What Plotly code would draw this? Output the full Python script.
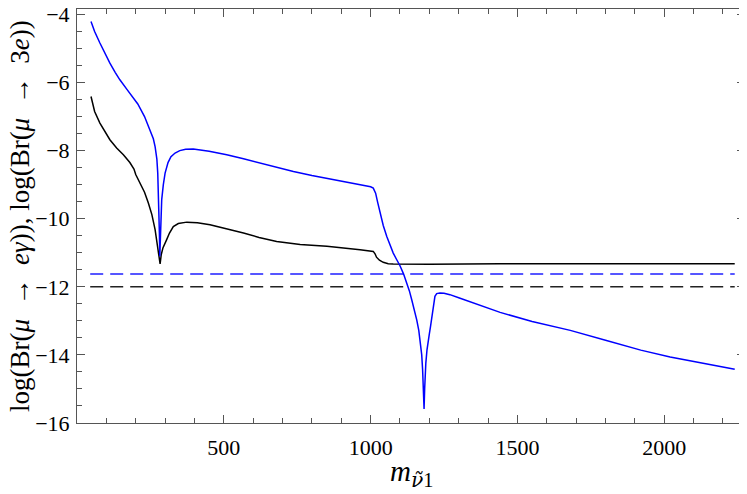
import plotly.graph_objects as go

# Blue curve (upper, with sharp dip near 1180)
blue_x = [47.7, 60, 78, 95, 112, 130, 146, 170, 190, 207, 230, 249, 260, 266, 272, 275, 278, 280.6, 282,
          284, 286, 288.5, 294, 300, 310, 320, 334, 350, 370, 396, 450, 510, 567, 624, 680, 737, 800, 850,
          895, 964, 1000, 1009, 1013, 1017, 1024, 1032, 1043, 1055, 1066, 1077, 1088, 1100, 1112, 1123,
          1132, 1140, 1148, 1157, 1164, 1170, 1174, 1177, 1180, 1182, 1184, 1186, 1188, 1192, 1196, 1200,
          1204, 1208, 1211, 1215, 1219, 1225, 1236, 1250, 1270, 1300, 1350, 1441, 1550, 1680, 1800, 1920,
          2020, 2130, 2240]
blue_y = [-4.21, -4.5, -4.84, -5.15, -5.43, -5.70, -5.92, -6.20, -6.42, -6.63, -7.0, -7.39, -7.65, -7.88,
          -8.25, -8.66, -9.4, -10.42, -11.1, -10.3, -9.8, -9.44, -9.0, -8.66, -8.35, -8.18, -8.07, -8.0,
          -7.96, -7.95, -8.02, -8.12, -8.24, -8.37, -8.49, -8.61, -8.73, -8.81, -8.88, -8.98, -9.06, -9.10,
          -9.16, -9.25, -9.52, -9.83, -10.2, -10.52, -10.78, -11.01, -11.19, -11.38, -11.62, -11.89, -12.12,
          -12.38, -12.65, -12.97, -13.28, -13.65, -14.0, -14.43, -15.0, -15.59, -15.0, -14.55, -14.24,
          -13.85, -13.55, -13.38, -13.16, -12.88, -12.67, -12.45, -12.28, -12.2, -12.18, -12.19, -12.23,
          -12.32, -12.48, -12.75, -13.02, -13.28, -13.57, -13.86, -14.06, -14.24, -14.42]

# Black curve
black_x = [47.7, 60, 78, 95, 112, 135, 158, 180, 194, 200, 215, 230, 243, 255, 266, 274, 280, 283, 287,
           293, 305, 315, 328, 345, 374, 410, 453, 510, 567, 620, 680, 760, 851, 964, 1009, 1015, 1020,
           1030, 1043, 1060, 1077, 1200, 1441, 2240]
black_y = [-6.41, -6.85, -7.19, -7.45, -7.68, -7.92, -8.12, -8.35, -8.54, -8.70, -8.95, -9.22, -9.54,
           -9.88, -10.32, -10.75, -11.15, -11.33, -11.05, -10.85, -10.62, -10.42, -10.23, -10.14, -10.10,
           -10.12, -10.18, -10.29, -10.42, -10.55, -10.67, -10.76, -10.81, -10.91, -10.96, -11.03, -11.13,
           -11.22, -11.28, -11.32, -11.33, -11.34, -11.32, -11.32]

# Experimental bounds (dashed)
bound_x = [45, 2240]
blue_bound = -11.62
black_bound = -12.0

x_tick_vals = [500, 1000, 1500, 2000]
y_tick_vals = [-16, -14, -12, -10, -8, -6, -4]

x_title = "<i>m</i><sub><span style=\"font-family:'DejaVu Serif'\"><i>ν̃</i></span>1</sub>"
y_title = "log(Br(<i>μ</i>\u2002→\u2002<i>eγ</i>)), log(Br(<i>μ</i>\u2002→\u20023<i>e</i>))"

SERIF = "'Liberation Serif', 'Times New Roman', Times, serif"

fig = go.Figure()
fig.add_trace(go.Scatter(x=bound_x, y=[blue_bound] * 2, mode="lines",
                         line=dict(color="#1f1fff", width=1.5, dash="13px,7px"), showlegend=False))
fig.add_trace(go.Scatter(x=bound_x, y=[black_bound] * 2, mode="lines",
                         line=dict(color="#222222", width=1.5, dash="13px,7px"), showlegend=False))
fig.add_trace(go.Scatter(x=black_x, y=black_y, mode="lines",
                         line=dict(color="black", width=1.5), showlegend=False))
fig.add_trace(go.Scatter(x=blue_x, y=blue_y, mode="lines",
                         line=dict(color="#0000ff", width=1.5), showlegend=False))

axis_common = dict(
    showline=True, linecolor="#555555", linewidth=1, mirror="allticks",
    ticks="inside", tickcolor="#555555", ticklen=8, tickwidth=1,
    showgrid=False, zeroline=False, automargin=False, ticklabeloverflow="allow",
    tickfont=dict(family=SERIF, size=22, color="black"),
)

fig.update_xaxes(range=[0, 2275], tickvals=x_tick_vals, ticklabelstandoff=5,
                 minor=dict(dtick=100, tick0=0, ticklen=5, tickcolor="#555555", ticks="inside"),
                 **axis_common)
fig.update_yaxes(range=[-16, -3.84], tickvals=y_tick_vals, ticklabelstandoff=2,
                 minor=dict(dtick=0.5, tick0=0, ticklen=5, tickcolor="#555555", ticks="inside"),
                 **axis_common)

fig.add_annotation(text=y_title, xref="paper", yref="paper", x=-0.0853, y=0.5,
                   xanchor="center", yanchor="middle", textangle=-90, showarrow=False,
                   font=dict(family=SERIF, size=27, color="black"))
fig.add_annotation(text=x_title, xref="paper", yref="paper", x=0.5, y=-0.123,
                   xanchor="center", yanchor="middle", showarrow=False,
                   font=dict(family=SERIF, size=29, color="black"))

# page body has an 8px default margin; compensate so the frame lands at the same screen pixels
fig.update_layout(width=747, height=494, margin=dict(l=69, r=10, t=1, b=79),
                  paper_bgcolor="white", plot_bgcolor="white",
                  font=dict(family=SERIF))

fig.write_html("out.html")
